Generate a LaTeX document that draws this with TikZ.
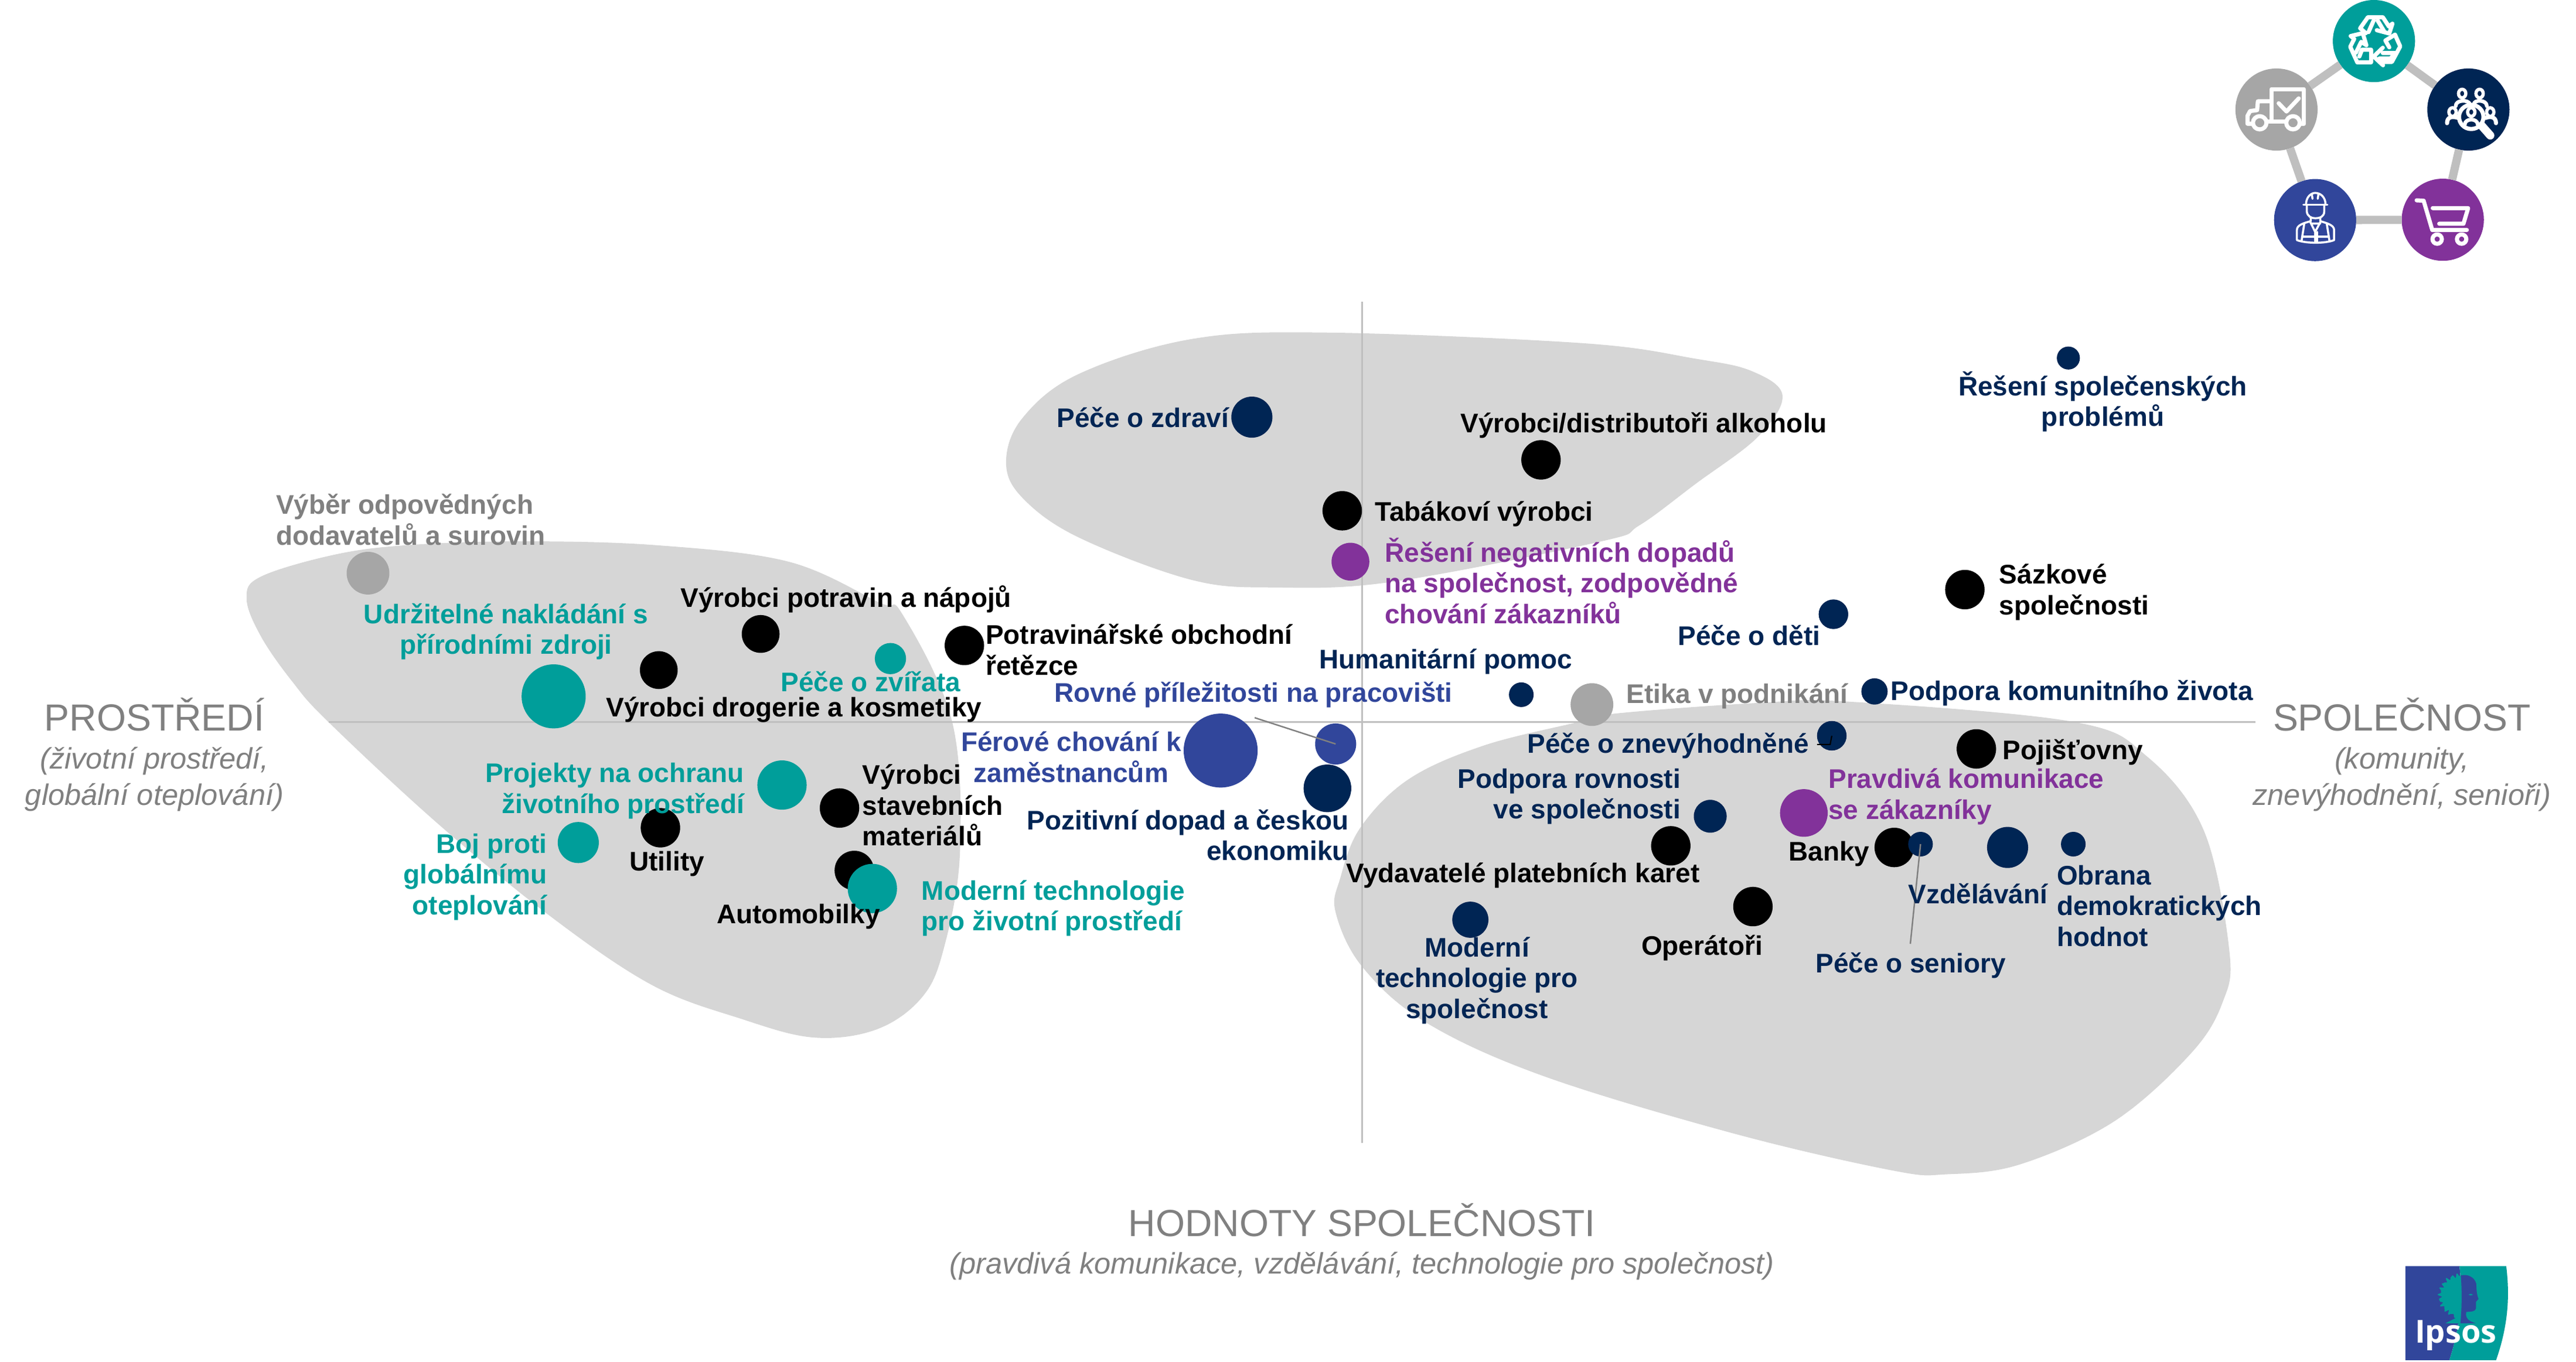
\documentclass[tikz,border=0pt]{standalone}
\usepackage{fontspec}
\setmainfont{Liberation Sans}
\newfontfamily\logofont{Open Sans}
\definecolor{teal1}{HTML}{009E9A}
\definecolor{navy1}{HTML}{002554}
\definecolor{blue1}{HTML}{31469B}
\definecolor{purp1}{HTML}{82329A}
\definecolor{grey1}{HTML}{A6A6A6}
\definecolor{gtxt}{HTML}{808080}
\definecolor{blob}{HTML}{D6D6D6}
\definecolor{axisc}{HTML}{BFBFBF}
\tikzset{
 dotn/.style={circle,inner sep=0pt,outer sep=0pt,minimum size=#1*0.056072cm/2},
 lab/.style={inner sep=0pt,outer sep=0pt,font=\fontsize{13.07}{14.95}\selectfont\bfseries},
 big/.style={inner sep=0pt,font=\fontsize{18.3}{22}\selectfont,text=gtxt},
 subt/.style={inner sep=0pt,font=\fontsize{14.38}{17.6}\selectfont\itshape,text=gtxt,align=center},
 ic/.style={white,line width=2pt,line cap=round,line join=round},
 icthin/.style={white,line width=1pt,line cap=round,line join=round},
 blobf/.style={fill=blob,draw=none},
 leader/.style={draw=gtxt,line width=0.7pt},
 penta/.style={draw=axisc,line width=4pt},
 axl/.style={draw=axisc,line width=0.85pt},
}
\begin{document}
\begin{tikzpicture}[x=0.028036cm,y=-0.028036cm]
\useasboundingbox (0,0) rectangle (1568,829.3);
% blobs
\path[blobf] plot[smooth cycle,tension=0.6] coordinates {(150.1,364.5) (159,351) (204.7,337.5) (250,331.8) (318.5,329.6) (400,332) (480,342) (535,366.8) (549.6,374.5) (579.6,439.5) (584.3,519.5) (574,579.3) (560.4,608.2) (533,627) (495,631.7) (451,620.3) (396.7,599.7) (333.8,557) (265.7,500.8) (200,439.7) (178.3,415.5) (159,387.8)};
\path[blobf] plot[smooth cycle,tension=0.6] coordinates {(612.4,282) (622,255) (656,228) (725,206.5) (806.9,202.5) (964,209) (1032,218.4) (1066.4,226) (1085,240.9) (1070,266) (1032,294.7) (998,319.8) (974,329.8) (848,354.2) (776,357.7) (725,353) (656.7,327.3) (622.8,303.6)};
\path[blobf] plot[smooth cycle,tension=0.6] coordinates {(813,555.6) (815.7,535) (828,504) (857.5,474.4) (903,454) (959.5,439.9) (983,434.5) (1070,428) (1125,427.2) (1262,439.5) (1307,460.7) (1341.5,505.8) (1357,579) (1353,610) (1333.7,641.3) (1287,682.7) (1229.5,709) (1185,715) (1152,712.7) (1055.4,690.2) (939.5,655.2) (868,622.6) (829.3,588.8)};
% axes
\coordinate (axL) at (200,439.6); \coordinate (axR) at (1373,439.6);
\coordinate (axT) at (829,183.7); \coordinate (axB) at (829,696);
\draw[axl] (axL) -- (axR);
\draw[axl] (axT) -- (axB);
% pentagon
\node[dotn=50,fill=teal1] (pA) at (1445,25) {};
\node[dotn=50,fill=navy1] (pB) at (1502.5,66.7) {};
\node[dotn=50,fill=purp1] (pC) at (1486.9,133.8) {};
\node[dotn=50,fill=blue1] (pD) at (1409.2,134) {};
\node[dotn=50,fill=grey1] (pE) at (1385.7,66.7) {};
\draw[penta] (pA) -- (pB); \draw[penta] (pB) -- (pC); \draw[penta] (pC) -- (pD); \draw[penta] (pD) -- (pE); \draw[penta] (pE) -- (pA);
% icons in zoom coordinates
\begin{scope}[shift={(1319.7,0)},x=0.004439cm,y=-0.003333cm]
 % recycle
 \draw[ic] (760,170) -- (738,145) -- (768,88) -- (825,88) -- (848,135) (862,122) -- (850,172) -- (802,155);
 \draw[ic] (805,105) -- (830,160);
 \draw[ic] (790,105) -- (770,165) ;
 \draw[ic] (848,135) -- (862,122);
 \draw[ic] (872,178) -- (892,238) -- (860,318) -- (812,318) (826,335) -- (790,290) -- (825,245);
 \draw[ic] (825,272) -- (872,272) -- (855,300) -- (812,300);
 \draw[ic] (872,178) -- (835,208) -- (850,243);
 \draw[ic] (702,185) -- (748,170) -- (762,232) -- (742,215) -- (722,270);
 \draw[ic] (702,185) -- (715,200) -- (700,240) -- (727,320) -- (780,320) -- (780,255) -- (745,255) -- (735,290);
 % truck
 \draw[ic] (397,620) -- (397,457) -- (522,457) -- (522,635) -- (505,635);
 \draw[ic] (397,520) -- (345,520) -- (342,565) -- (315,570) -- (305,595) -- (305,635) -- (325,635);
 \draw[ic] (378,625) -- (455,625);
 \draw[ic] (425,530) -- (455,572) -- (502,505);
 \draw[ic] (352,630) ellipse [x radius=26*0.004439cm,y radius=34*0.003333cm];
 \draw[ic] (480,630) ellipse [x radius=26*0.004439cm,y radius=34*0.003333cm];
 % people search
 \draw[ic] (1165,600) ellipse [x radius=47*0.004439cm,y radius=62*0.003333cm];
 \draw[ic,line width=4pt] (1205,645) -- (1238,695);
 \foreach \hx/\hy in {1130/480,1197/480,1093/575,1238/575,1165/575}{
   \draw[icthin,line width=1.6pt] (\hx,\hy) ellipse [x radius=14*0.004439cm,y radius=22*0.003333cm];
 }
 \draw[icthin,line width=1.8pt] (1105,545) .. controls (1105,510) and (1155,510) .. (1160,535);
 \draw[icthin,line width=1.8pt] (1175,535) .. controls (1175,510) and (1225,510) .. (1225,545);
 \draw[ic] (1072,632) .. controls (1072,600) and (1090,595) .. (1115,605);
 \draw[ic] (1260,632) .. controls (1260,600) and (1240,595) .. (1220,605);
 \draw[icthin,line width=1.8pt] (1140,640) .. controls (1140,605) and (1190,605) .. (1190,640);
 % worker
 \draw[icthin] (520,1050) -- (612,1050);
 \draw[icthin] (530,1050) .. controls (530,1010) and (550,990) .. (565,990) .. controls (585,990) and (605,1010) .. (605,1050);
 \draw[icthin] (555,1020) -- (552,995) (575,1020) -- (578,995);
 \draw[icthin] (533,1050) -- (533,1085) .. controls (535,1110) and (550,1120) .. (565,1120) .. controls (585,1120) and (600,1110) .. (600,1085) -- (600,1050);
 \draw[icthin] (548,1115) -- (548,1135) .. controls (520,1145) and (495,1155) .. (495,1180) -- (495,1232) .. controls (530,1250) and (605,1250) .. (638,1232) -- (638,1180) .. controls (638,1155) and (610,1145) .. (585,1135) -- (585,1115);
 \draw[icthin] (545,1135) -- (565,1190) -- (587,1135) (548,1147) -- (585,1147);
 \draw[icthin] (565,1190) -- (565,1245) (573,1190) -- (573,1245);
 \draw[icthin] (523,1150) -- (513,1235) (610,1150) -- (620,1235);
 \draw[icthin] (518,1215) -- (615,1215);
 % cart
 \draw[ic] (955,1028) -- (982,1030) -- (1015,1180) -- (1148,1180);
 \draw[ic] (1017,1068) -- (1153,1068) -- (1135,1148) -- (1042,1148);
 \draw[ic] (1034,1227) ellipse [x radius=18*0.004439cm,y radius=24*0.003333cm];
 \draw[ic] (1128,1227) ellipse [x radius=18*0.004439cm,y radius=24*0.003333cm];
\end{scope}
% Ipsos logo, in crop coordinates
\begin{scope}[shift={(1444.6,757.9)},x=0.003333cm,y=-0.003333cm]
 \fill[blue1] (165,110) -- (442,110) .. controls (455,220) and (455,400) .. (390,592) -- (165,592) -- cycle;
 \fill[teal1] (442,110) -- (682,110) .. controls (702,270) and (690,420) .. (630,592) -- (390,592) .. controls (455,400) and (455,220) .. (442,110) -- cycle;
 \fill[teal1] plot[domain=85:275,samples=120,variable=\t] ({447+(106+8*sin(23*\t)+4*sin(37*\t))*cos(\t)},{262-(106+8*sin(23*\t)+4*sin(37*\t))*sin(\t)}) -- (425,350) -- (420,378) -- (370,403) -- (449,403) -- cycle;
 \fill[blue1] (449,158) .. controls (480,148) and (520,165) .. (528,200) .. controls (530,235) and (530,255) .. (540,278) -- (527,292) -- (527,325) .. controls (525,345) and (500,342) .. (477,345) .. controls (472,370) and (480,390) .. (526,403) -- (447,403) .. controls (455,320) and (455,230) .. (449,158) -- cycle;
 \fill[teal1] (488,256) .. controls (495,250) and (505,250) .. (512,256) .. controls (505,262) and (495,262) .. (488,256) -- cycle;
 \node[inner sep=0pt,text=white,font=\logofont\bfseries\fontsize{15.4}{16}\selectfont] (logotxt) at (423,465) {Ipsos};
\end{scope}
% leader coordinates
\coordinate (ldA) at (763.7,437);
\coordinate (ldB) at (1162.8,574.7);
\coordinate (ldC) at (1106,453.3);
\coordinate (ldD) at (1114,453.3);
% dots
\node[dotn=25,fill=navy1] (d1) at (762,254) {};
\node[dotn=24,fill=black] (d2) at (938,280) {};
\node[dotn=24,fill=black] (d3) at (817,311) {};
\node[dotn=23,fill=purp1] (d4) at (822,342) {};
\node[dotn=14,fill=navy1] (d5) at (1259,218) {};
\node[dotn=24,fill=black] (d6) at (1196,359) {};
\node[dotn=18,fill=navy1] (d7) at (1116,374) {};
\node[dotn=15,fill=navy1] (d8) at (926,423) {};
\node[dotn=26,fill=grey1] (d9) at (969,429) {};
\node[dotn=16,fill=navy1] (d10) at (1141,421) {};
\node[dotn=18,fill=navy1] (d11) at (1115,448) {};
\node[dotn=24,fill=black] (d12) at (1203,456) {};
\node[dotn=20,fill=navy1] (d13) at (1041,497) {};
\node[dotn=29,fill=purp1] (d14) at (1098,495) {};
\node[dotn=24,fill=black] (d15) at (1153,516) {};
\node[dotn=15,fill=navy1] (d16) at (1169,514) {};
\node[dotn=25,fill=navy1] (d17) at (1222,516) {};
\node[dotn=15,fill=navy1] (d18) at (1262,514) {};
\node[dotn=24,fill=black] (d19) at (1017,515) {};
\node[dotn=24,fill=black] (d20) at (1067,552) {};
\node[dotn=22,fill=navy1] (d21) at (895,560) {};
\node[dotn=25,fill=blue1] (d22) at (813,453) {};
\node[dotn=45,fill=blue1] (d23) at (743,457) {};
\node[dotn=29,fill=navy1] (d24) at (808,480) {};
\node[dotn=24,fill=black] (d25) at (587,393) {};
\node[dotn=23,fill=black] (d26) at (463,386) {};
\node[dotn=23,fill=black] (d27) at (401,408) {};
\node[dotn=19,fill=teal1] (d28) at (542,401) {};
\node[dotn=39,fill=teal1] (d29) at (337,424) {};
\node[dotn=26,fill=grey1] (d30) at (224,349) {};
\node[dotn=30,fill=teal1] (d31) at (476,478) {};
\node[dotn=24,fill=black] (d32) at (511,492) {};
\node[dotn=24,fill=black] (d33) at (402,504) {};
\node[dotn=25,fill=teal1] (d34) at (352,513) {};
\node[dotn=24,fill=black] (d35) at (520,530) {};
\node[dotn=30,fill=teal1] (d36) at (531,541) {};
% leaders
\draw[leader] (ldA) -- (d22.center);
\draw[leader] (d16.center) -- (ldB);
\draw[black,line width=0.6pt] (ldC) -- (ldD) -- (d11.center);
% labels
\node[lab,text=navy1,anchor=east] (t1) at (748,254) {Péče o zdraví};
\node[lab,anchor=west] (t2) at (889,259) {Výrobci/distributoři alkoholu};
\node[lab,anchor=west] (t3) at (837,313) {Tabákoví výrobci};
\node[lab,text=purp1,anchor=west,align=left] (t4) at (843,353.7) {Řešení negativních dopadů\\na společnost, zodpovědné\\chování zákazníků};
\node[lab,text=navy1,align=center] (t5) at (1280,244.5) {Řešení společenských\\problémů};
\node[lab,anchor=west,align=left] (t6) at (1217,360.5) {Sázkové\\společnosti};
\node[lab,text=navy1,anchor=east] (t7) at (1108,387) {Péče o děti};
\node[lab,text=navy1] (t8) at (880,403) {Humanitární pomoc};
\node[lab,text=gtxt,anchor=west] (t9) at (990,424) {Etika v podnikání};
\node[lab,text=navy1,anchor=west] (t10) at (1151,422) {Podpora komunitního života};
\node[lab,text=navy1,anchor=east] (t11) at (1101,454) {Péče o znevýhodněné};
\node[lab,anchor=west] (t12) at (1219,458) {Pojišťovny};
\node[lab,text=navy1,anchor=east,align=right] (t13) at (1023,485) {Podpora rovnosti\\ve společnosti};
\node[lab,text=purp1,anchor=west,align=left] (t14) at (1113,485) {Pravdivá komunikace\\se zákazníky};
\node[lab,anchor=east] (t15) at (1138,520) {Banky};
\node[lab,text=navy1] (t16) at (1204,544) {Vzdělávání};
\node[lab,text=navy1,anchor=west,align=left] (t17) at (1252,551.5) {Obrana\\demokratických\\hodnot};
\node[lab] (t19) at (927,533) {Vydavatelé platebních karet};
\node[lab] (t20) at (1036,577) {Operátoři};
\node[lab,text=navy1,align=center] (t21) at (899,597) {Moderní\\technologie pro\\společnost};
\node[lab,text=navy1] (t18) at (1163,588) {Péče o seniory};
\node[lab,text=blue1] (t22) at (763,423) {Rovné příležitosti na pracovišti};
\node[lab,text=blue1,align=center] (t23) at (652,461) {Férové chování k\\zaměstnancům};
\node[lab,text=navy1,anchor=east,align=right] (t24) at (821,508.5) {Pozitivní dopad a českou\\ekonomiku};
\node[lab,anchor=west,align=left] (t25) at (600,395.5) {Potravinářské obchodní\\řetězce};
\node[lab] (t26) at (515,365) {Výrobci potravin a nápojů};
\node[lab,anchor=west] (t27) at (369,432) {Výrobci drogerie a kosmetiky};
\node[lab,text=teal1] (t28) at (530,415) {Péče o zvířata};
\node[lab,text=teal1,align=center] (t29) at (308,384.5) {Udržitelné nakládání s\\přírodními zdroji};
\node[lab,text=gtxt,anchor=west,align=left] (t30) at (168,316.5) {Výběr odpovědných\\dodavatelů a surovin};
\node[lab,text=teal1,anchor=east,align=right] (t31) at (453,481.5) {Projekty na ochranu\\životního prostředí};
\node[lab,anchor=west,align=left] (t32) at (525,490.3) {Výrobci\\stavebních\\materiálů};
\node[lab] (t33) at (406,526) {Utility};
\node[lab,text=teal1,anchor=east,align=right] (t34) at (333,534) {Boj proti\\globálnímu\\oteplování};
\node[lab] (t35) at (486,558) {Automobilky};
\node[lab,text=teal1,anchor=west,align=left] (t36) at (561,553) {Moderní technologie\\pro životní prostředí};
% axis titles
\node[big] (a1) at (94,435) {PROSTŘEDÍ};
\node[subt] (a2) at (94,474.5) {(životní prostředí,\\globální oteplování)};
\node[big] (a3) at (1462,435) {SPOLEČNOST};
\node[subt] (a4) at (1462,474.5) {(komunity,\\znevýhodnění, senioři)};
\node[big] (a5) at (829,743) {HODNOTY SPOLEČNOSTI};
\node[subt] (a6) at (829,771) {(pravdivá komunikace, vzdělávání, technologie pro společnost)};
\end{tikzpicture}
\end{document}
